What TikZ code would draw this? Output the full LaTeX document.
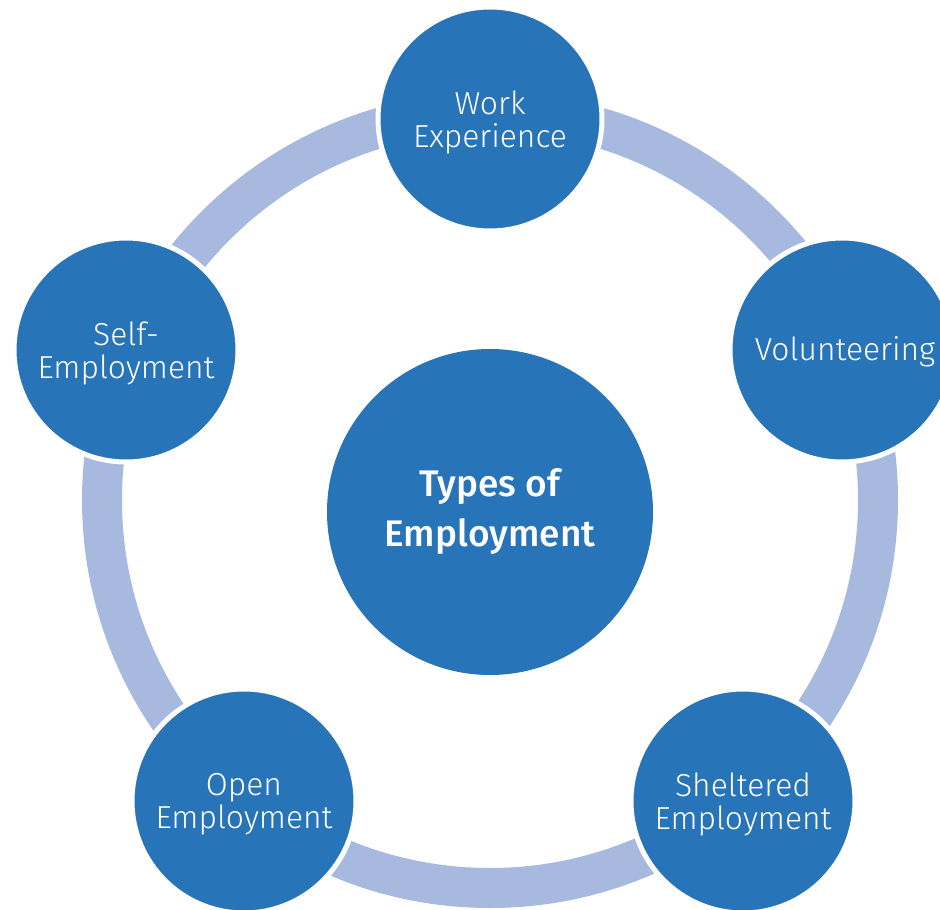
\documentclass[tikz,border=0pt]{standalone}
\usepackage{fontspec}
\setmainfont{Fira Sans}[UprightFont=* Light,BoldFont=* Medium]
\definecolor{empblue}{RGB}{40,116,184}
\definecolor{ringblue}{RGB}{167,185,223}
\tikzset{
  hub/.style={circle,fill=empblue,text=white,inner sep=0pt,minimum size=326pt,align=center,
    font=\fontsize{37}{50}\selectfont\bfseries},
  spoke/.style={circle,fill=empblue,draw=white,line width=5pt,inner sep=0pt,minimum size=224pt},
  tag/.style={text=white,align=center,font=\fontsize{31.8}{33}\selectfont}
}
\begin{document}
\begin{tikzpicture}[x=1pt,y=-1pt]
        \useasboundingbox (0,0) rectangle (940,910);
        \coordinate (ringc) at (490,500);
        % the cycle band behind the circles
        \draw[ringblue,line width=40pt] (ringc) circle (388pt);
        \node[hub] (types) at (490,512) {Types of\\Employment};
        \node[spoke] (work) at (490,119) {};
        \node[spoke] (volunteer) at (842,350) {};
        \node[spoke] (sheltered) at (743,801) {};
        \node[spoke] (open) at (244,801) {};
        \node[spoke] (self) at (126,350) {};
        % labels sit a little below the circle centres
        \node[tag] (worktxt) at ([yshift=-3pt]work.center) {Work\\Experience};
        \node[tag] (volunteertxt) at ([xshift=3pt,yshift=-2pt]volunteer.center) {Volunteering};
        \node[tag] (shelteredtxt) at ([yshift=-3pt]sheltered.center) {Sheltered\\Employment};
        \node[tag] (opentxt) at ([yshift=-3pt]open.center) {Open\\Employment};
        \node[tag] (selftxt) at ([yshift=-3pt]self.center) {Self-\\Employment};
\end{tikzpicture}
\end{document}
